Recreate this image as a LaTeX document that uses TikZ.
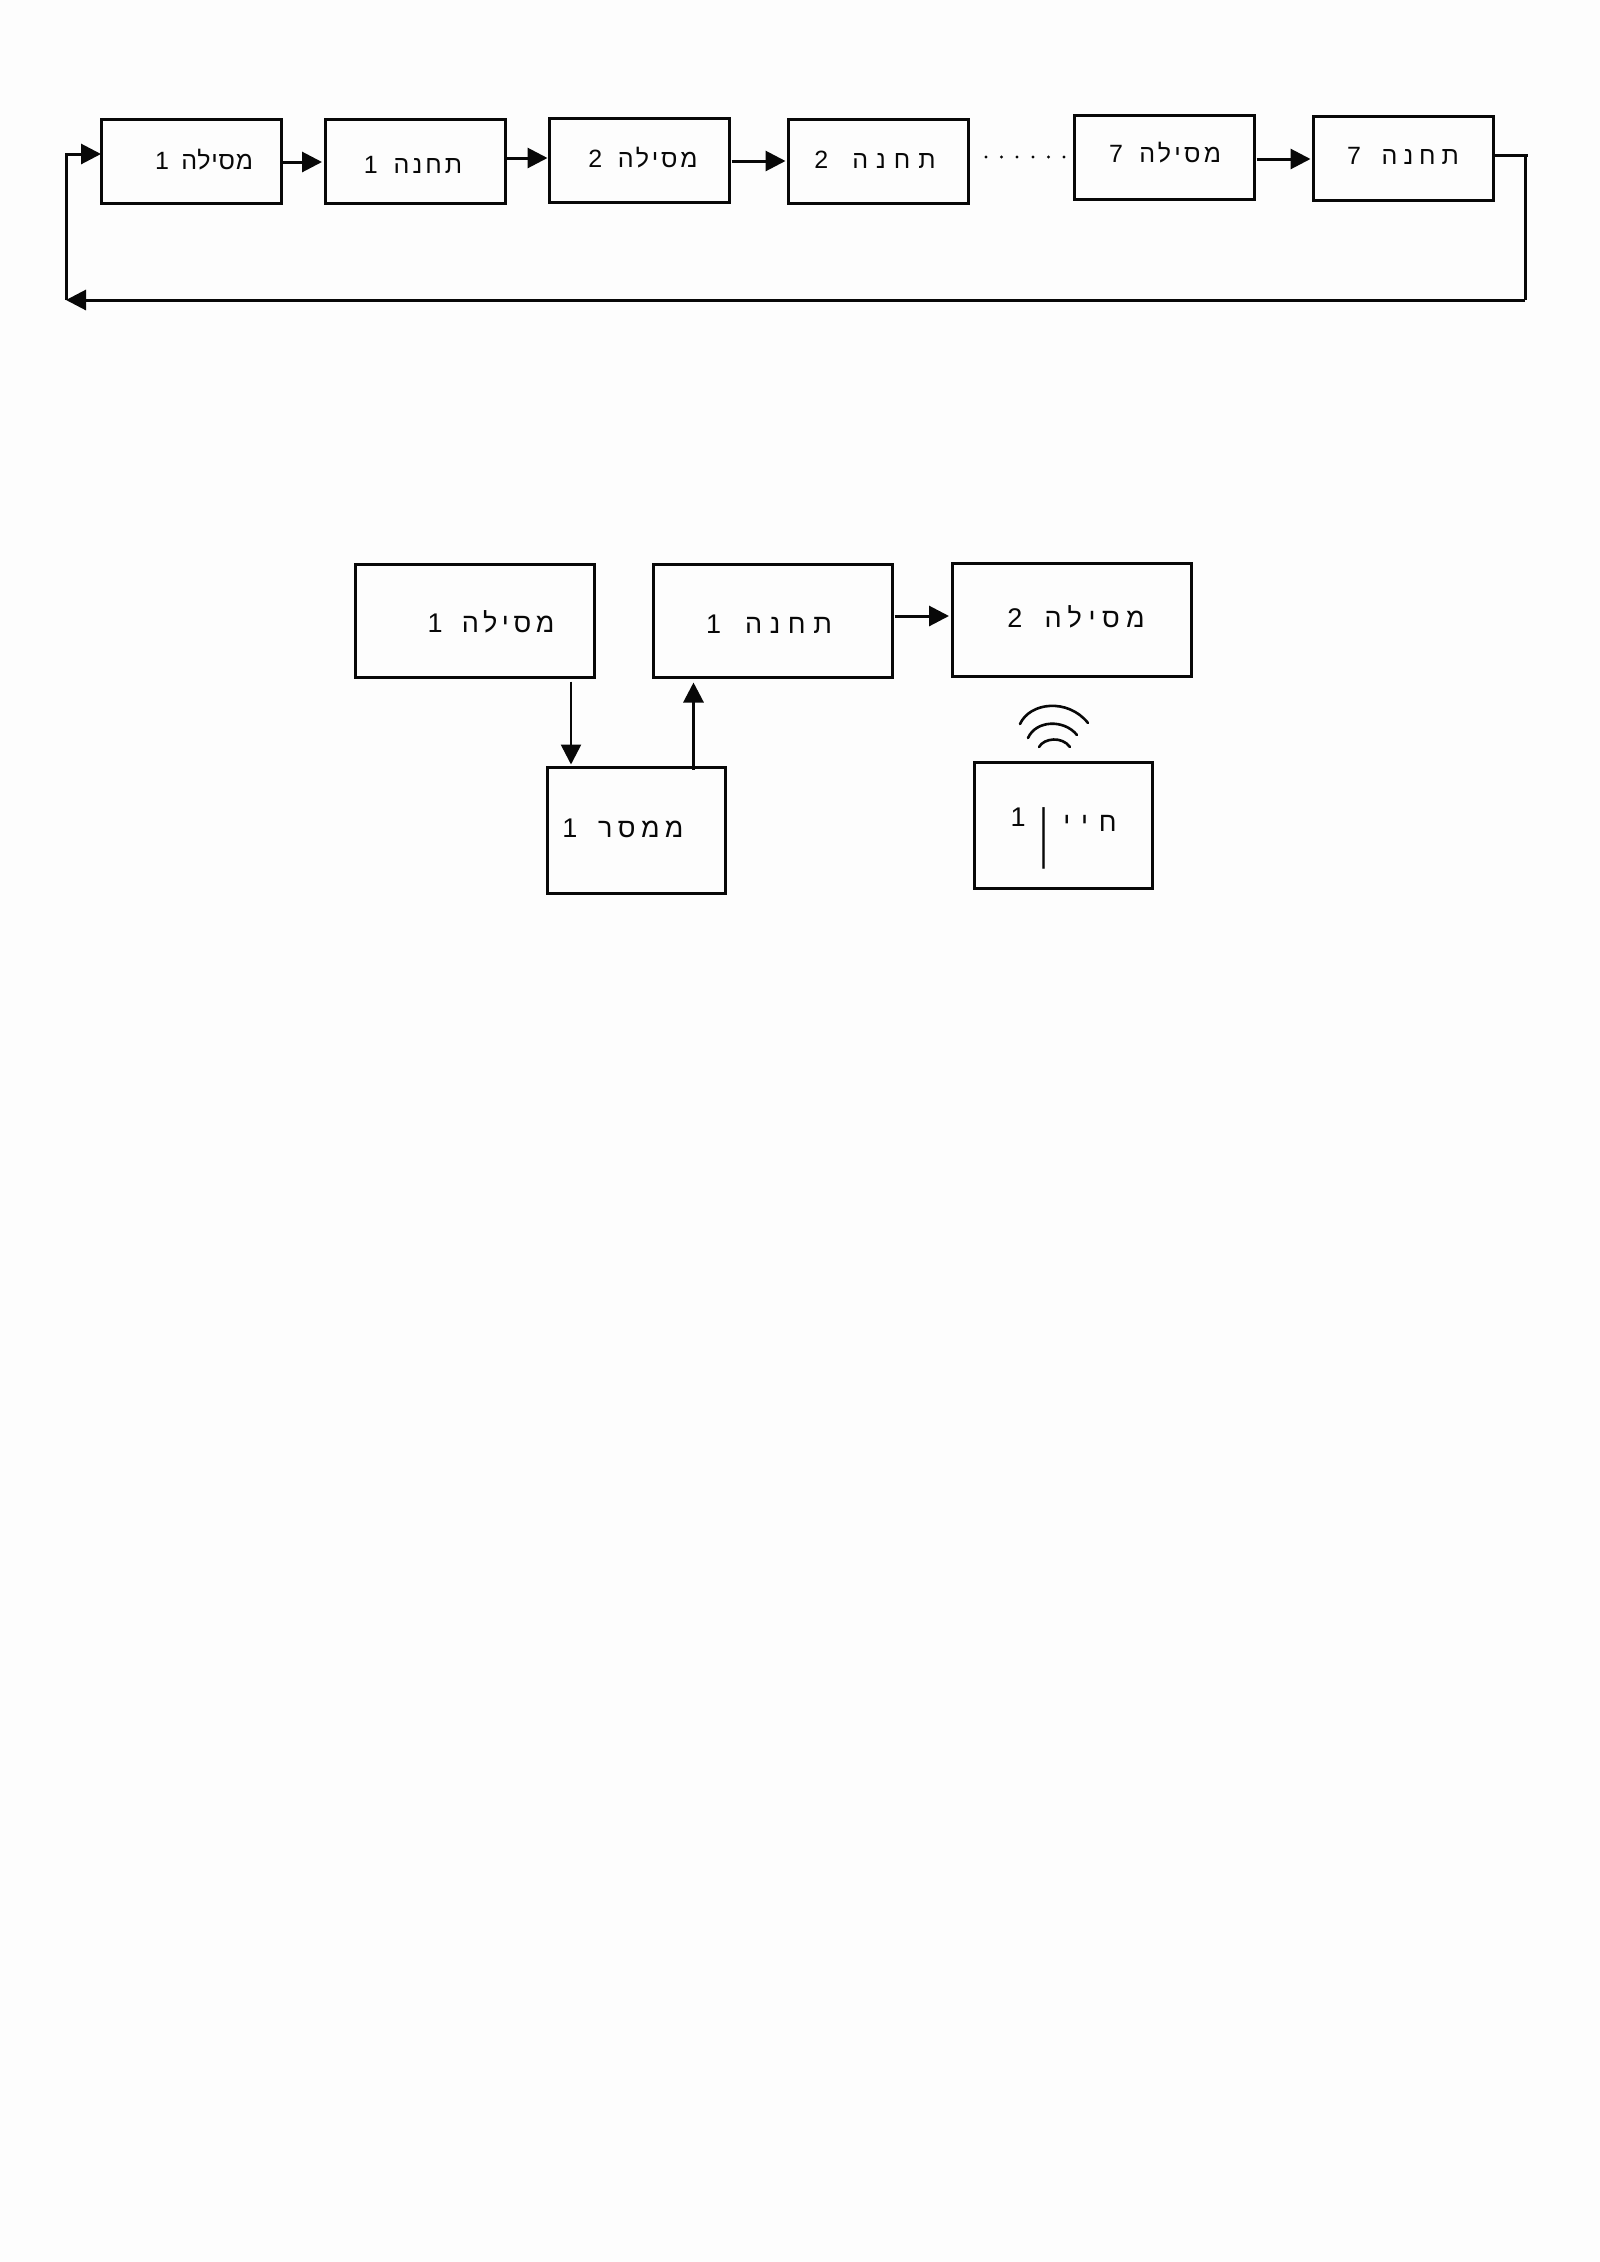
\documentclass[tikz,border=0pt]{standalone}
\usepackage{fontspec}
\usetikzlibrary{arrows.meta,calc}
\TeXXeTstate=1
\newfontfamily\hebA[Script=Hebrew,WordSpace=1.6]{Liberation Sans}
\definecolor{paper}{HTML}{FDFDFD}
\definecolor{ink}{HTML}{080808}
\tikzset{
  boxtop/.style={draw=ink,line width=3pt,rectangle,inner sep=0pt,outer sep=0pt,minimum width=180pt,minimum height=84pt},
  boxbig/.style={draw=ink,line width=3pt,rectangle,inner sep=0pt,outer sep=0pt,minimum width=239pt,minimum height=113pt},
  boxtall/.style={draw=ink,line width=3pt,rectangle,inner sep=0pt,outer sep=0pt,minimum width=178pt,minimum height=126pt},
  labtop/.style={text=ink,inner sep=0pt,font=\fontsize{25}{30}\hebA\addfontfeature{LetterSpace=#1}},
  labbig/.style={text=ink,inner sep=0pt,font=\fontsize{27}{32}\hebA\addfontfeature{LetterSpace=#1}},
  arr/.style={draw=ink,line width=3pt,-{Triangle[length=20pt,width=20pt]}},
  wire/.style={draw=ink,line width=3pt},
  wave/.style={draw=ink,line width=2.6pt,line cap=round},
  dotmark/.style={circle,fill=ink,inner sep=0pt,minimum size=3.2pt}
}
\begin{document}
\begin{tikzpicture}[x=1pt,y=-1pt]
\useasboundingbox (0,0) rectangle (1600,2262);
\fill[paper] (0,0) rectangle (1600,2262);
% top row
\node[boxtop] (m1) at (191,161.5) {};
\node[boxtop] (t1) at (415,161.5) {};
\node[boxtop] (m2) at (639.5,160) {};
\node[boxtop] (t2) at (878.5,161.5) {};
\node[boxtop] (m7) at (1164.5,157) {};
\node[boxtop] (t7) at (1403.5,158) {};
\node[labtop=3] (lm1) at (204,160) {\beginR מסילה 1\endR};
\node[labtop=12] (lt1) at (413,165) {\beginR תחנה 1\endR};
\node[labtop=11] (lm2) at (643,158) {\beginR מסילה 2\endR};
\node[labtop=32] (lt2) at (875,160) {\beginR תחנה 2\endR};
\node[labtop=13] (lm7) at (1165,153) {\beginR מסילה 7\endR};
\node[labtop=24] (lt7) at (1403,156) {\beginR תחנה 7\endR};
\coordinate (c1) at (1525,155);
\coordinate (c2) at (1525,300);
\coordinate (c3) at (66,300);
\coordinate (c4) at (66,154);
\draw[arr,shorten >=3pt] ([xshift=2pt,yshift=-0.5pt]m1.east) -- ([yshift=-0.5pt]t1.west);
\draw[arr,shorten >=2pt] ([xshift=2pt,yshift=3.5pt]t1.east) -- ([yshift=3.5pt]t1.east -| m2.west);
\draw[arr,shorten >=3pt] ([xshift=2pt,yshift=-1pt]m2.east) -- ([yshift=-1pt]m2.east -| t2.west);
\draw[arr,shorten >=3pt] ([xshift=2pt,yshift=-2pt]m7.east) -- ([yshift=-2pt]m7.east -| t7.west);
\draw[wire] ([yshift=3pt]t7.east) -- (c1) -- (c2);
\draw[wire] (c1) -- ++(3,0);
\draw[arr] (c2) -- (c3);
\draw[arr] (c3) -- (c4) -- ([yshift=7.5pt]m1.west);
\foreach \i/\x in {1/986,2/1001.5,3/1017,4/1033,5/1048.5,6/1064}{
  \node[dotmark] (d\i) at (\x,157) {};
}
% lower group
\node[boxbig] (bm1) at (475,621) {};
\node[boxbig] (bt1) at (773,621) {};
\node[boxbig] (bm2) at (1071.5,620) {};
\node[boxtall] (relay) at (636,830.5) {};
\node[boxtall] (sens) at (1063,825) {};
\node[labbig=17] (lbm1) at (491,622) {\beginR מסילה 1\endR};
\node[labbig=28] (lbt1) at (769,624) {\beginR תחנה 1\endR};
\node[labbig=24] (lbm2) at (1076,617) {\beginR מסילה 2\endR};
\node[labbig=20] (lrel) at (623,828) {\beginR ממסר 1\endR};
\node[labbig=40] (lsena) at (1090,823) {\beginR חיי\endR};
\node[labbig=0,transform shape,yscale=2.9] (lsenb) at (1044,838) {\beginR ן\endR};
\node[labbig=0] (lsenc) at (1018,817) {1};
\coordinate (pa) at ([xshift=96pt,yshift=-4pt]bm1.south);
\coordinate (pb) at ([xshift=57.5pt]relay.north);
\draw[arr,line width=2.6pt,shorten >=3pt] (pa) -- (pa |- relay.north);
\draw[arr,shorten >=5pt,shorten <=-2pt] (pb) -- (pb |- bt1.south);
\draw[arr,shorten >=3pt,shorten <=2pt] ([yshift=5pt]bt1.east) -- ([yshift=5pt]bt1.east -| bm2.west);
% signal waves above the sensor
\draw[wave] (1020,724) .. controls (1030,702) and (1068,698) .. (1088,723);
\draw[wave] (1028,738) .. controls (1036,720) and (1064,719) .. (1077,735);
\draw[wave] (1039,747) .. controls (1044,738) and (1062,736) .. (1070,747);
\end{tikzpicture}
\end{document}
